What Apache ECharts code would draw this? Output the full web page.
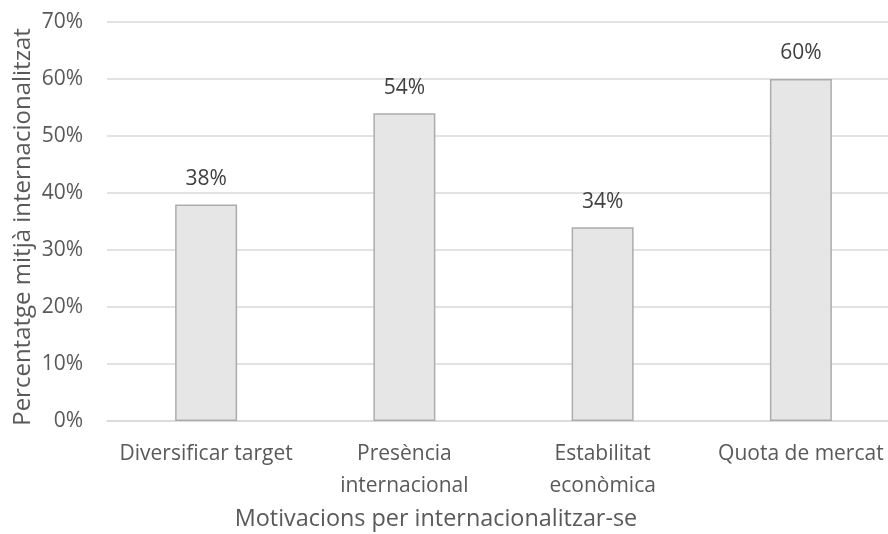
<!DOCTYPE html>
<html>
<head>
<meta charset="utf-8">
<script src="https://cdn.jsdelivr.net/npm/echarts@6/dist/echarts.min.js"></script>
<style>
  html, body { margin: 0; padding: 0; background: #fff; overflow: hidden; }
  #chart { width: 888px; height: 534px; }
</style>
</head>
<body>
<div id="chart"></div>
<script>
// Motivacions per internacionalitzar-se: percentatge mitjà internacionalitzat
const categories = ['Diversificar target', 'Presència\ninternacional', 'Estabilitat\neconòmica', 'Quota de mercat'];
const values = [38, 54, 34, 60];
const yTicks = [0, 10, 20, 30, 40, 50, 60, 70];

const FONT = '"Open Sans", sans-serif';
const chart = echarts.init(document.getElementById('chart'), null, { renderer: 'canvas' });

chart.setOption({
  animation: false,
  backgroundColor: '#ffffff',
  textStyle: { fontFamily: FONT },
  title: {
    text: 'Motivacions per internacionalitzar-se',
    left: 431,
    top: 503,
    textAlign: 'center',
    textStyle: { fontFamily: FONT, fontSize: 23.4, fontWeight: 'normal', color: '#595959' }
  },
  graphic: [{
    type: 'text',
    x: 23,
    y: 227,
    rotation: Math.PI / 2,
    style: {
      text: 'Percentatge mitjà internacionalitzat',
      font: '24px "Open Sans", sans-serif',
      fill: '#595959',
      align: 'center',
      verticalAlign: 'middle'
    }
  }],
  grid: { left: 107, right: -12, top: 22, bottom: 113, containLabel: false, outerBoundsMode: 'none' },
  xAxis: {
    type: 'category',
    data: categories,
    axisLine: { show: true, lineStyle: { color: '#d9d9d9', width: 1.5 } },
    axisTick: { show: false },
    axisLabel: {
      color: '#595959', fontFamily: FONT, fontSize: 21,
      margin: 17, lineHeight: 32, interval: 0
    }
  },
  yAxis: {
    type: 'value',
    min: yTicks[0],
    max: yTicks[yTicks.length - 1],
    interval: 10,
    axisLine: { show: false },
    axisTick: { show: false },
    splitLine: { lineStyle: { color: '#d9d9d9', width: 1.5 } },
    axisLabel: {
      color: '#595959', fontFamily: FONT, fontSize: 21, margin: 24,
      formatter: v => v + '%'
    }
  },
  series: [{
    type: 'bar',
    data: values,
    barWidth: 62,
    itemStyle: { color: '#e6e6e6', borderColor: '#afabab', borderWidth: 1.5 },
    label: {
      show: true,
      position: 'top',
      distance: 15,
      color: '#404040',
      fontFamily: FONT,
      fontSize: 21,
      formatter: p => p.value + '%'
    }
  }]
});
</script>
</body>
</html>
